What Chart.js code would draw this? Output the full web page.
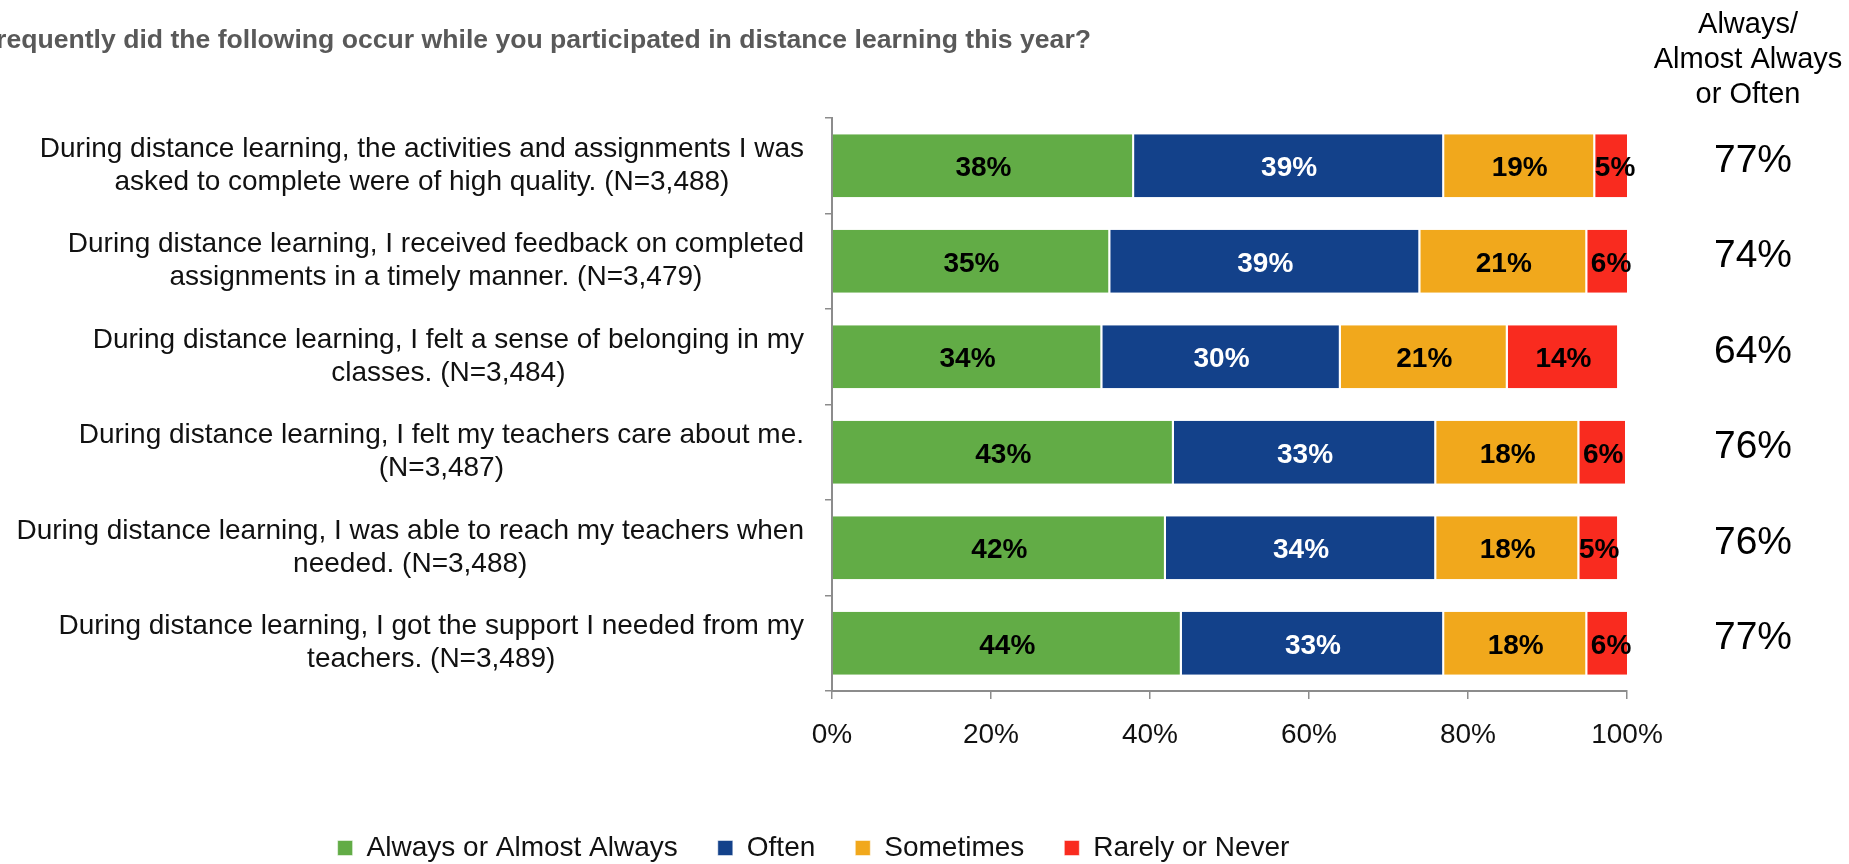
<!DOCTYPE html>
<html>
<head>
<meta charset="utf-8">
<title>Distance learning survey</title>
<script src="https://cdn.jsdelivr.net/npm/chart.js@4.4.1/dist/chart.umd.min.js"></script>
<style>
  html, body { margin: 0; padding: 0; background: #fff; }
  #wrap { width: 1849px; height: 864px; }
</style>
</head>
<body>
<div id="wrap"><canvas id="surveyChart" width="1849" height="864"></canvas></div>
<script>
const chartTitle = 'How frequently did the following occur while you participated in distance learning this year?';

const categories = [
  ['During distance learning, the activities and assignments I was', 'asked to complete were of high quality. (N=3,488)'],
  ['During distance learning, I received feedback on completed', 'assignments in a timely manner. (N=3,479)'],
  ['During distance learning, I felt a sense of belonging in my', 'classes. (N=3,484)'],
  ['During distance learning, I felt my teachers care about me.', '(N=3,487)'],
  ['During distance learning, I was able to reach my teachers when', 'needed. (N=3,488)'],
  ['During distance learning, I got the support I needed from my', 'teachers. (N=3,489)']
];

const seriesNames = ['Always or Almost Always', 'Often', 'Sometimes', 'Rarely or Never'];
const alwaysValues = [38, 35, 34, 43, 42, 44];
const oftenValues = [39, 39, 30, 33, 34, 33];
const sometimesValues = [19, 21, 21, 18, 18, 18];
const rarelyValues = [5, 6, 14, 6, 5, 6];

const xTickValues = [0, 20, 40, 60, 80, 100];
const totalHeader = ['Always/', 'Almost Always', 'or Often'];

const FONT = "'Liberation Sans', Arial, sans-serif";
const AXIS_GRAY = '#8c8c8c';

Chart.defaults.font.family = FONT;
Chart.defaults.color = '#000';

// bar values printed in the middle of each segment
const segmentLabels = {
  id: 'segmentLabels',
  afterDatasetsDraw(chart) {
    const ctx = chart.ctx;
    ctx.save();
    ctx.font = 'bold 28px ' + FONT;
    ctx.textAlign = 'center';
    ctx.textBaseline = 'middle';
    chart.data.datasets.forEach(function(ds, di) {
      const meta = chart.getDatasetMeta(di);
      ctx.fillStyle = ds.labelColor;
      meta.data.forEach(function(bar, i) {
        const p = bar.getCenterPoint();
        ctx.fillText(ds.data[i] + '%', p.x, p.y + 3);
      });
    });
    ctx.restore();
  }
};

// question text on the left, each block centred on its own widest line
const questionLabels = {
  id: 'questionLabels',
  afterDraw(chart) {
    const ctx = chart.ctx;
    const y = chart.scales.y;
    const right = chart.chartArea.left - 28;
    ctx.save();
    ctx.font = '28px ' + FONT;
    ctx.fillStyle = '#111';
    ctx.textAlign = 'center';
    ctx.textBaseline = 'middle';
    categories.forEach(function(lines, i) {
      const cy = y.getPixelForValue(i);
      const widest = Math.max.apply(null, lines.map(function(l) { return ctx.measureText(l).width; }));
      const cx = right - widest / 2;
      lines.forEach(function(line, li) {
        ctx.fillText(line, cx, cy + (li - (lines.length - 1) / 2) * 33);
      });
    });
    ctx.restore();
  }
};

// title plus the "Always/Almost Always or Often" totals column
const extras = {
  id: 'extras',
  afterDraw(chart) {
    const ctx = chart.ctx;
    const y = chart.scales.y;
    ctx.save();
    ctx.textBaseline = 'middle';

    ctx.font = 'bold 26.6px ' + FONT;
    ctx.fillStyle = '#595959';
    ctx.textAlign = 'right';
    ctx.fillText(chartTitle, 1091, 41);

    ctx.fillStyle = '#000';
    ctx.textAlign = 'center';
    ctx.font = '29px ' + FONT;
    totalHeader.forEach(function(line, i) {
      ctx.fillText(line, 1748, 25 + i * 35);
    });

    ctx.font = '39px ' + FONT;
    categories.forEach(function(c, i) {
      const total = alwaysValues[i] + oftenValues[i];
      ctx.fillText(total + '%', 1753, y.getPixelForValue(i) - 5);
    });
    ctx.restore();
  }
};

function makeSet(label, data, color, labelColor) {
  return {
    label: label,
    data: data,
    backgroundColor: color,
    borderColor: '#ffffff',
    borderWidth: { top: 0, bottom: 0, left: 0, right: 2 },
    borderSkipped: false,
    labelColor: labelColor,
    categoryPercentage: 1,
    barPercentage: 0.66,
    clip: 0
  };
}

const ctx = document.getElementById('surveyChart').getContext('2d');
const chart = new Chart(ctx, {
  type: 'bar',
  data: {
    labels: categories.map(function(c) { return c.join(' '); }),
    datasets: [
      makeSet(seriesNames[0], alwaysValues, '#62ac46', '#000'),
      makeSet(seriesNames[1], oftenValues, '#13418a', '#fff'),
      makeSet(seriesNames[2], sometimesValues, '#f1a81c', '#000'),
      makeSet(seriesNames[3], rarelyValues, '#f92b1f', '#000')
    ]
  },
  options: {
    indexAxis: 'y',
    responsive: false,
    animation: false,
    layout: { padding: { top: 118, right: 222, bottom: -8, left: 0 } },
    scales: {
      x: {
        stacked: true,
        min: 0,
        max: 100,
        afterBuildTicks: function(scale) {
          scale.ticks = xTickValues.map(function(v) { return { value: v }; });
        },
        afterFit: function(scale) {
          scale.height = 103;
          scale.paddingRight = 0;
        },
        ticks: {
          padding: 19,
          font: { size: 28 },
          color: '#111',
          callback: function(v) { return v + '%'; }
        },
        grid: { drawOnChartArea: false, color: AXIS_GRAY, tickLength: 8, lineWidth: 1.5 },
        border: { color: AXIS_GRAY, width: 2 }
      },
      y: {
        stacked: true,
        afterFit: function(scale) {
          scale.width = 832;
        },
        ticks: { display: false },
        grid: { drawOnChartArea: false, offset: true, color: AXIS_GRAY, tickLength: 7, lineWidth: 1.5 },
        border: { color: AXIS_GRAY, width: 2 }
      }
    },
    plugins: {
      legend: {
        position: 'bottom',
        labels: {
          font: { size: 28 },
          color: '#111',
          boxWidth: 15,
          boxHeight: 15,
          padding: 40
        }
      },
      tooltip: { enabled: false }
    }
  },
  plugins: [segmentLabels, questionLabels, extras]
});
</script>
</body>
</html>
